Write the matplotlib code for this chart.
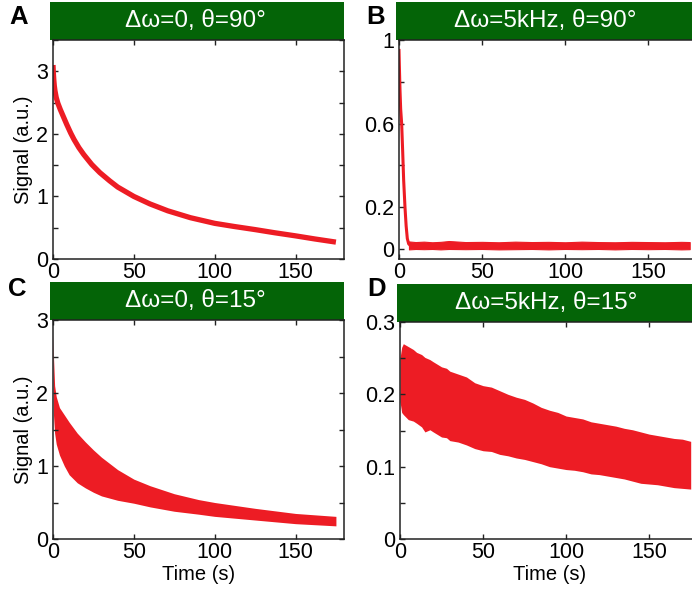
import matplotlib
matplotlib.use("Agg")
import matplotlib.pyplot as plt
from matplotlib.patches import Rectangle
from matplotlib.ticker import MultipleLocator, FormatStrFormatter

plt.rcParams["font.family"] = ["Liberation Sans", "DejaVu Sans"]

RED = "#ed1c24"
GREEN = "#046407"

# --- panel A: dw=0, theta=90 (thin decaying trace)
t_a = [0, 0.2, 0.5, 0.8, 1.2, 2, 3, 4.5, 6, 8.5, 11, 13, 16, 19, 24, 29, 35, 40, 50,
       60, 71, 85, 100, 112, 125, 137, 150, 162, 175]
sig_a = [3.1, 2.98, 2.86, 2.77, 2.69, 2.58, 2.49, 2.39, 2.3, 2.15, 2.01, 1.91, 1.78,
         1.67, 1.51, 1.38, 1.25, 1.15, 1.0, 0.88, 0.77, 0.66, 0.57, 0.52, 0.47, 0.42,
         0.37, 0.32, 0.27]

# --- panel B: dw=5kHz, theta=90 (fast drop, then noise floor)
t_b_drop = [0, 0.2, 0.6, 1, 1.6, 2.2, 2.8, 3.6, 4.3, 5, 5.8, 7]
sig_b_drop = [0.95, 0.88, 0.76, 0.67, 0.6, 0.47, 0.33, 0.2, 0.11, 0.05, 0.025, 0.015]
t_b = [6, 10, 15, 20, 25, 30, 40, 50, 60, 70, 80, 90, 100, 110, 120, 130, 140, 150,
       160, 170, 175]
b_hi = [0.036, 0.033, 0.035, 0.032, 0.034, 0.038, 0.033, 0.034, 0.032, 0.035, 0.033,
        0.034, 0.032, 0.035, 0.033, 0.032, 0.034, 0.033, 0.032, 0.034, 0.033]
b_lo = [-0.002, 0.0, -0.001, 0.0, -0.002, 0.0, -0.001, 0.0, -0.002, -0.001, 0.0,
        -0.002, 0.0, -0.001, 0.0, -0.002, 0.0, -0.001, 0.0, -0.002, -0.001]

# --- panel C: dw=0, theta=15 (oscillating band)
t_c = [0, 0.3, 1, 2, 4, 7, 10, 15, 20, 25, 30, 40, 50, 60, 75, 90, 100, 125, 150, 175]
c_hi = [2.8, 2.5, 2.1, 1.95, 1.8, 1.7, 1.6, 1.45, 1.33, 1.22, 1.12, 0.95, 0.82, 0.73,
        0.62, 0.54, 0.5, 0.42, 0.35, 0.31]
c_lo = [2.4, 1.7, 1.45, 1.3, 1.15, 1.0, 0.88, 0.77, 0.7, 0.64, 0.59, 0.53, 0.49, 0.44,
        0.38, 0.34, 0.31, 0.26, 0.21, 0.18]

# --- panel D: dw=5kHz, theta=15 (noisy band)
t_d = [0, 1, 2, 5, 8, 10, 13, 15, 18, 20, 25, 28, 30, 35, 40, 45, 50, 55, 60, 65, 70,
       75, 80, 85, 90, 95, 100, 105, 110, 115, 120, 125, 130, 135, 140, 145, 150, 155,
       160, 165, 170, 175]
d_hi = [0.25, 0.265, 0.27, 0.266, 0.262, 0.258, 0.255, 0.251, 0.248, 0.245, 0.238,
        0.236, 0.232, 0.228, 0.224, 0.216, 0.212, 0.21, 0.205, 0.2, 0.196, 0.193,
        0.188, 0.182, 0.178, 0.175, 0.17, 0.168, 0.166, 0.162, 0.16, 0.158, 0.156,
        0.153, 0.151, 0.148, 0.145, 0.143, 0.141, 0.139, 0.138, 0.135]
d_lo = [0.19, 0.175, 0.172, 0.165, 0.163, 0.16, 0.155, 0.148, 0.151, 0.148, 0.141,
        0.14, 0.136, 0.134, 0.13, 0.125, 0.122, 0.121, 0.117, 0.115, 0.112, 0.11,
        0.107, 0.104, 0.1, 0.098, 0.096, 0.095, 0.093, 0.09, 0.089, 0.087, 0.085,
        0.083, 0.08, 0.077, 0.076, 0.075, 0.073, 0.071, 0.07, 0.069]

W, H = 692, 591
fig = plt.figure(figsize=(W / 100, H / 100), dpi=100)


def panel(left, top, width, height, letter, lpos, title, ylim, major, minor, labels=None):
    ax = fig.add_axes([left / W, (H - top - height) / H, width / W, height / H])
    ax.set_xlim(0, 180)
    ax.set_ylim(*ylim)
    ax.set_xticks([0, 50, 100, 150])
    ax.yaxis.set_major_locator(MultipleLocator(major))
    ax.yaxis.set_minor_locator(MultipleLocator(minor))
    ax.yaxis.set_major_formatter(FormatStrFormatter("%g"))
    if labels is not None:
        ax.set_yticks(labels[0])
        ax.set_yticks(labels[1], minor=True)
    ax.tick_params(which="both", direction="in", top=True, right=True, length=3.5,
                   width=1, labelsize=15.5, color="#222222")
    ax.tick_params(axis="x", pad=2.5)
    ax.tick_params(axis="y", pad=3.5)
    for s in ax.spines.values():
        s.set_linewidth(1.1)
        s.set_color("#222222")
    hb = 38 / height
    ax.add_patch(Rectangle((-3 / width, 1), 1 + 3 / width, hb, transform=ax.transAxes,
                           clip_on=False, facecolor=GREEN, edgecolor="none"))
    ax.text(0.49, 1 + hb / 2, title, transform=ax.transAxes, ha="center", va="center",
            color="white", fontsize=17.5)
    fig.text(lpos[0] / W, 1 - lpos[1] / H, letter, fontsize=18.5, fontweight="bold",
             ha="center", va="center")
    return ax


axA = panel(53, 40, 291, 219, "A", (19, 17), "Δω=0, θ=90°", (0, 3.5), 1, 0.5)
axA.plot(t_a, sig_a, color=RED, lw=3.8, solid_capstyle="butt")
axA.set_ylabel("Signal (a.u.)", fontsize=14.5, labelpad=2)

axB = panel(399, 40, 299, 219, "B", (376, 17), "Δω=5kHz, θ=90°", (-0.048, 1), 0.2, 0.2,
            labels=([0, 0.2, 0.6, 1], [0.4, 0.8]))
axB.plot(t_b_drop, sig_b_drop, color=RED, lw=2.2)
axB.fill_between(t_b, b_lo, b_hi, color=RED, lw=0.8, edgecolor=RED)

axC = panel(53, 320, 291, 219, "C", (17, 289), "Δω=0, θ=15°", (0, 3), 1, 0.5)
axC.fill_between(t_c, c_lo, c_hi, color=RED, lw=0)
axC.set_ylabel("Signal (a.u.)", fontsize=14.5, labelpad=2)
axC.set_xlabel("Time (s)", fontsize=14.5, labelpad=1)

axD = panel(400, 322, 299, 217, "D", (377, 289), "Δω=5kHz, θ=15°", (0, 0.3), 0.1, 0.05)
axD.fill_between(t_d, d_lo, d_hi, color=RED, lw=0)
axD.set_xlabel("Time (s)", fontsize=14.5, labelpad=1)

fig.savefig("out.png", dpi=100)
